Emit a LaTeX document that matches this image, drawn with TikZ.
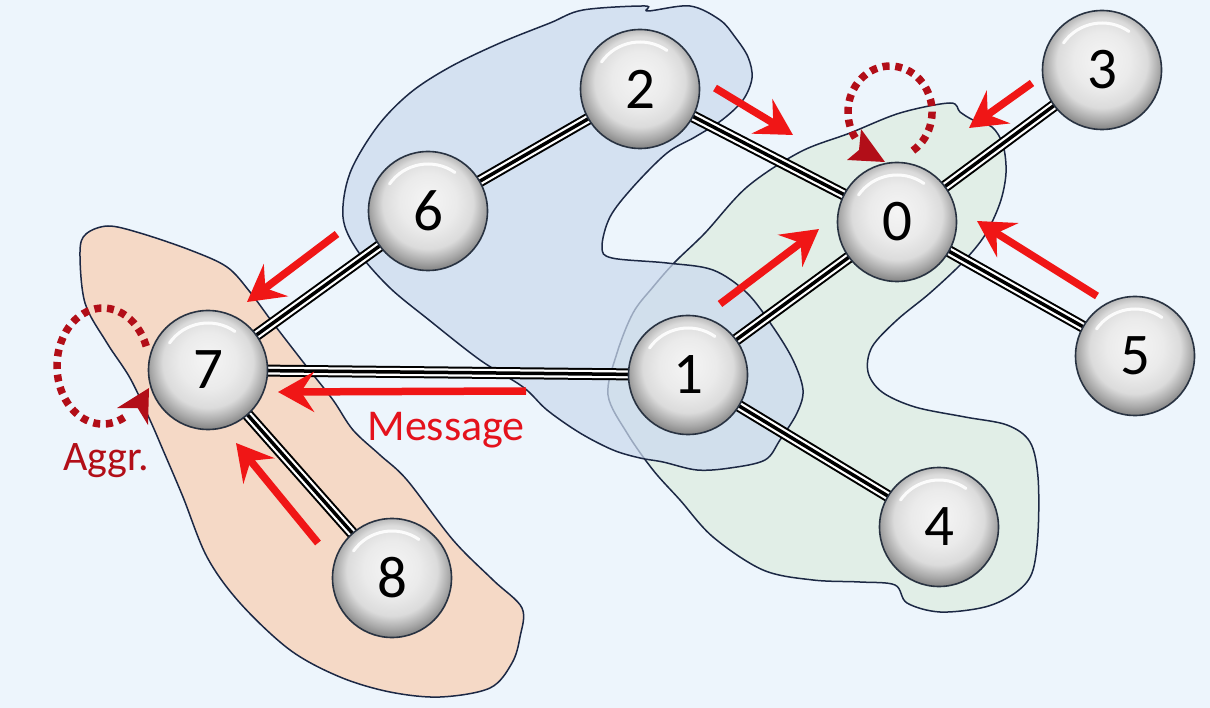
\documentclass[tikz,border=0pt]{standalone}
\usepackage{fontspec}
\setmainfont{Carlito}
\usetikzlibrary{arrows.meta}
\definecolor{bgc}{RGB}{237,245,252}
\definecolor{bluef}{RGB}{203,218,238}
\definecolor{greenf}{RGB}{225,238,231}
\definecolor{orangef}{RGB}{245,217,198}
\definecolor{outl}{RGB}{28,40,68}
\definecolor{redA}{RGB}{240,22,22}
\definecolor{redT}{RGB}{228,18,28}
\definecolor{darkred}{RGB}{178,14,24}
\definecolor{nodeline}{RGB}{40,50,65}
\pgfdeclareradialshading{sphere}{\pgfpoint{0bp}{5bp}}{%
 color(0bp)=(white!96!black);
 color(12bp)=(white!92!black);
 color(19bp)=(white!86!black);
 color(24bp)=(white!66!black);
 color(28bp)=(white!48!black);
 color(50bp)=(white!48!black)}
\pgfdeclarelayer{bg}
\pgfdeclarelayer{edges}
\pgfsetlayers{bg,edges,main}
\tikzset{
 gnode/.style={circle, minimum size=119pt, inner sep=0pt, shading=sphere,
   draw=nodeline, line width=1.6pt, font=\fontsize{59}{61}\selectfont,
   path picture={\draw[white, line width=3pt, opacity=.9, line cap=round]
     ([shift={(145:47pt)}]path picture bounding box.center)
     arc[start angle=145, end angle=55, radius=47pt];}},
 tedge/.style={draw=black, line width=12pt,
   postaction={draw=white, line width=8pt},
   postaction={draw=black, line width=3.5pt}},
 msg/.style={draw=redA, line width=7.5pt, -{Stealth[length=36pt, width=40pt, inset=13pt]}},
 loopst/.style={draw=darkred, line width=7.5pt, dash pattern=on 7pt off 5.7pt},
 loophead/.style={fill=darkred},
 blob/.style={draw=outl, line width=1.5pt},
}
\begin{document}
\begin{tikzpicture}[x=1pt, y=-1pt]
\begin{pgfonlayer}{bg}
\fill[bgc] (0,0) rectangle (1210,708);
\useasboundingbox (0,0) rectangle (1210,708);
% orange blob
\filldraw[blob, fill=orangef] plot[smooth cycle, tension=0.55] coordinates {
 (80,252) (86,234) (108,226) (140,233) (190,250) (227,267) (250,292) (273,323)
 (307,367) (333,400) (353,430) (380,455) (407,480) (453,540) (493,580) (522,608)
 (520,637) (512,663) (490,688) (440,697) (390,692) (340,677) (290,650) (240,603)
 (207,557) (183,497) (163,450) (150,420) (130,378) (107,343) (85,303)};
% green blob
\filldraw[blob, fill=greenf] plot[smooth cycle, tension=0.55] coordinates {
 (705,233) (747,187) (800,152) (850,133) (900,113) (950,103) (960,112) (973,120)
 (992,127) (1003,145) (1006,173) (1000,203) (985,235) (963,262) (930,293) (897,320)
 (872,347) (868,372) (882,392) (915,407) (965,417) (1007,425) (1030,442) (1038,477)
 (1038,533) (1032,573) (1015,593) (985,607) (940,612) (907,603) (895,585) (860,582)
 (813,580) (763,570) (713,537) (680,500) (653,470) (627,433) (608,395) (617,353)
 (633,313) (653,287) (675,262)};
% blue blob
\filldraw[blob, fill=bluef, fill opacity=0.72] plot[smooth cycle, tension=0.55] coordinates {
 (343,217) (350,173) (377,127) (410,93) (450,67) (500,43) (550,23) (583,10)
 (645,6) (648,11) (690,6) (720,20) (735,37) (748,57) (752,78) (743,100)
 (722,120) (695,137) (667,153) (633,187) (610,217) (602,247) (612,258) (667,263)
 (713,270) (747,293) (773,327) (793,360) (803,390) (797,413) (780,440) (765,460)
 (730,468) (697,470) (663,462) (640,458) (613,450) (580,433) (547,410) (523,387)
 (480,360) (429,320) (389,287) (357,250)};
\end{pgfonlayer}
% nodes
\node[gnode] (n0) at (897,222) {0};
\node[gnode] (n1) at (688,375) {1};
\node[gnode] (n2) at (640,89) {2};
\node[gnode] (n3) at (1102,70) {3};
\node[gnode] (n4) at (939,527) {4};
\node[gnode] (n5) at (1135,356) {5};
\node[gnode] (n6) at (428,211) {6};
\node[gnode] (n7) at (208,370) {7};
\node[gnode] (n8) at (392,578) {8};
% edges
\begin{pgfonlayer}{edges}
\foreach \a/\b in {n2/n6, n2/n0, n0/n3, n0/n1, n0/n5, n6/n7, n7/n1, n7/n8, n1/n4}
  \draw[tedge] (\a.center) -- (\b.center);
\end{pgfonlayer}
% message arrows
\coordinate (a67s) at (337,234); \coordinate (a67e) at (247,302);
\coordinate (msgs) at (526,391); \coordinate (msge) at (278,392);
\coordinate (a87s) at (318,543); \coordinate (a87e) at (236,443);
\coordinate (a20s) at (715,88);  \coordinate (a20e) at (793,135);
\coordinate (a30s) at (1032,83); \coordinate (a30e) at (969,128);
\coordinate (a10s) at (720,304); \coordinate (a10e) at (819,229);
\coordinate (a50s) at (1097,296); \coordinate (a50e) at (977,221);
\draw[msg] (a67s) -- (a67e);
\draw[msg] (msgs) -- (msge);
\draw[msg] (a87s) -- (a87e);
\draw[msg] (a20s) -- (a20e);
\draw[msg] (a30s) -- (a30e);
\draw[msg] (a10s) -- (a10e);
\draw[msg] (a50s) -- (a50e);
% aggregation loops
\coordinate (l0) at (890,112);
\coordinate (l7) at (103,366);
\coordinate (h0e) at (885,162);
\coordinate (h7e) at (149,388);
\draw[loopst] ([shift={(22.9,38.6)}]l0) arc[start angle=57, end angle=-215, x radius=42, y radius=46];
\fill[loophead] (h0e) -- (847,160) -- (859,150) -- (861,129) -- cycle;
\draw[loopst] ([shift={(43.2,-19.8)}]l7) arc[start angle=-20, end angle=-298, x radius=46, y radius=58];
\fill[loophead] (h7e) -- (148,425) -- (137.7,408.1) -- (117,408) -- cycle;
% labels
\node[anchor=base, text=redT, font=\fontsize{44}{46}\selectfont] (lmsg) at (446,440) {Message};
\node[anchor=base, text=darkred, font=\fontsize{42}{44}\selectfont] (lagg) at (106,470) {Aggr.};
\end{tikzpicture}
\end{document}
